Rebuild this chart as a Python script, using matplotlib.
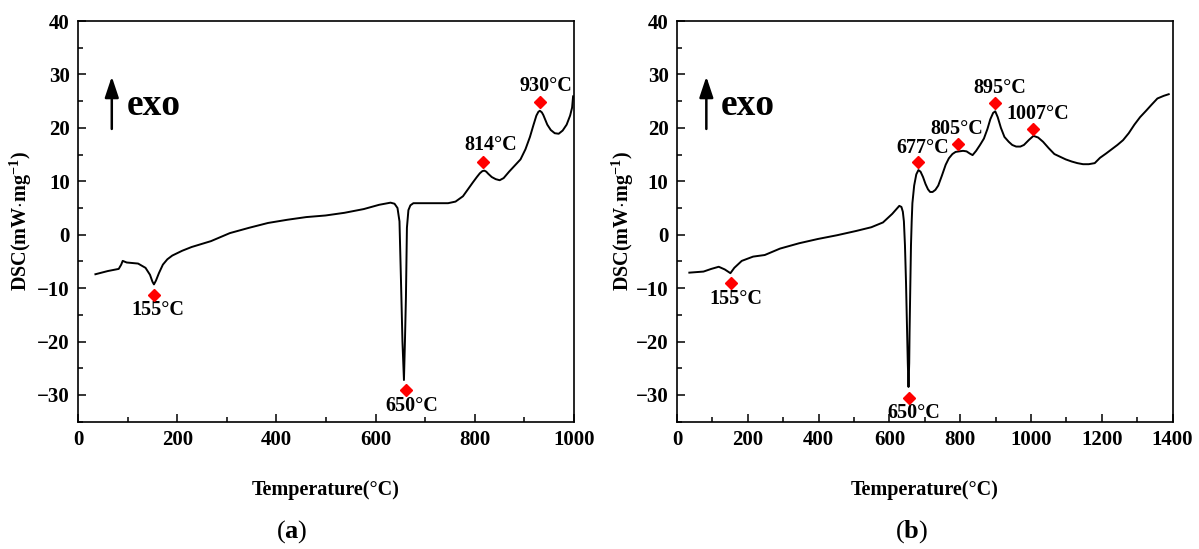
import numpy as np
import matplotlib
matplotlib.use("Agg")
import matplotlib.pyplot as plt
from matplotlib.ticker import MultipleLocator

plt.rcParams['font.family'] = ['Liberation Serif', 'DejaVu Serif']
plt.rcParams['mathtext.fontset'] = 'custom'
plt.rcParams['mathtext.rm'] = 'Liberation Serif'
plt.rcParams['mathtext.bf'] = 'Liberation Serif:bold'

# curve (a): temperature (C) and DSC (mW/mg)
temp_a = [35, 60, 82, 87, 90, 98, 121, 136, 145, 150, 153, 157, 163, 171, 180, 190, 210, 229,
          268, 306, 345, 383, 422, 460, 499, 537, 576, 607, 630, 638, 644, 648, 651, 654, 657,
          659, 661, 663, 666, 670, 676, 707, 746, 761, 776, 786, 796, 804, 810, 815, 819, 823,
          827, 834, 842, 850, 858, 869, 880, 892, 902, 911, 918, 924, 928, 931, 935, 938, 946,
          953, 961, 969, 977, 985, 992, 996, 998]
dsc_a = [-7.4, -6.8, -6.4, -5.6, -4.9, -5.2, -5.4, -6.2, -7.5, -8.8, -9.3, -8.6, -7.2, -5.6,
         -4.6, -3.9, -3.0, -2.3, -1.2, 0.3, 1.3, 2.2, 2.8, 3.3, 3.6, 4.1, 4.8, 5.6, 6.0, 5.8,
         5.0, 2.5, -8.5, -20.0, -27.2, -20.0, -11.8, 1.3, 4.6, 5.5, 5.9, 5.9, 5.9, 6.2, 7.2,
         8.5, 9.8, 10.8, 11.5, 11.9, 12.0, 11.8, 11.4, 10.8, 10.4, 10.2, 10.6, 11.8, 12.9,
         14.1, 16.0, 18.3, 20.5, 22.3, 23.0, 23.2, 22.9, 22.4, 20.6, 19.6, 19.0, 18.9, 19.5,
         20.6, 22.3, 23.8, 25.9]

# curve (b)
temp_b = [35, 75, 97, 118, 135, 151, 162, 183, 215, 248, 291, 345, 398, 452, 506, 549, 582,
          608, 620, 628, 634, 638, 641, 644, 647, 649, 652, 654, 656, 657, 659, 661, 663, 665,
          670, 676, 682, 688, 695, 702, 709, 715, 722, 730, 738, 748, 759, 768, 778, 787, 797,
          808, 818, 827, 835, 845, 856, 867, 877, 885, 893, 899, 906, 915, 925, 937, 947, 958,
          970, 980, 995, 1007, 1020, 1034, 1050, 1066, 1082, 1098, 1115, 1131, 1147, 1163,
          1180, 1195, 1212, 1228, 1244, 1260, 1276, 1292, 1308, 1325, 1340, 1357, 1375, 1389]
dsc_b = [-7.1, -6.9, -6.4, -6.0, -6.5, -7.2, -6.2, -4.9, -4.1, -3.8, -2.6, -1.6, -0.8, -0.1,
         0.7, 1.4, 2.3, 3.9, 4.8, 5.4, 5.2, 4.3, 2.5, -2.0, -9.0, -15.1, -24.0, -28.5, -24.0,
         -18.3, -10.0, -2.0, 2.5, 5.9, 9.2, 11.3, 12.1, 11.8, 10.8, 9.5, 8.5, 8.0, 8.0, 8.4,
         9.2, 11.0, 13.1, 14.3, 15.1, 15.5, 15.6, 15.7, 15.6, 15.2, 14.9, 15.7, 16.8, 18.0,
         19.8, 21.6, 22.8, 23.1, 22.0, 20.0, 18.3, 17.4, 16.8, 16.5, 16.5, 16.8, 17.8, 18.5,
         18.2, 17.4, 16.2, 15.1, 14.6, 14.1, 13.7, 13.4, 13.2, 13.2, 13.4, 14.4, 15.2, 16.0,
         16.8, 17.7, 19.0, 20.6, 22.0, 23.2, 24.3, 25.5, 26.0, 26.3]

# peak markers and their labels
mark_x_a = [153, 661, 817, 932]
mark_y_a = [-11.3, -29.0, 13.6, 24.8]
mark_lab_a = ['155°C', '650°C', '814°C', '930°C']
lab_off_a = [(3, -11), (4, -12), (5, 12), (4, 12)]

mark_x_b = [152, 656, 682, 794, 899, 1007]
mark_y_b = [-9.0, -30.6, 13.6, 17.0, 24.6, 19.8]
mark_lab_b = ['155°C', '650°C', '677°C', '805°C', '895°C', '1007°C']
lab_off_b = [(4, -12), (3.5, -10.5), (3.3, 10), (-1, 11), (3, 11), (3, 11)]

fig = plt.figure(figsize=(11.99, 5.49), dpi=100)
ax_a = fig.add_axes([0.0651, 0.2319, 0.4137, 0.7298])
ax_b = fig.add_axes([0.5646, 0.2319, 0.4134, 0.7298])


def style_axes(ax, xmax, ylab_x, exo_x, arrow_x):
    ax.set_xlim(0, xmax)
    ax.set_ylim(-35, 40)
    ax.xaxis.set_major_locator(MultipleLocator(200))
    ax.xaxis.set_minor_locator(MultipleLocator(100))
    ax.yaxis.set_major_locator(MultipleLocator(10))
    ax.yaxis.set_minor_locator(MultipleLocator(5))
    ax.tick_params(which='both', direction='in', top=False, right=False, width=1.1)
    ax.tick_params(which='major', length=6, labelsize=15, pad=6)
    ax.tick_params(which='minor', length=3.5)
    for lab in ax.get_xticklabels() + ax.get_yticklabels():
        lab.set_fontweight('bold')
    for sp in ax.spines.values():
        sp.set_linewidth(1.2)
    ax.set_xlabel('Temperature(°C)', fontsize=14.5, fontweight='bold')
    ax.xaxis.set_label_coords(0.5, -0.17)
    ax.xaxis.label.set_va('center')
    ax.set_ylabel(r'DSC(mW$\cdot$mg$^{\mathbf{-1}}$)', fontsize=14.5, fontweight='bold')
    ax.yaxis.label.set_va('center')
    ax.yaxis.set_label_coords(ylab_x, 0.5)
    ax.text(exo_x, 24.2, 'exo', fontsize=27, fontweight='bold', va='center', ha='left')
    ax.annotate('', xy=(arrow_x, 29.6), xytext=(arrow_x, 19.8),
                arrowprops=dict(arrowstyle='-|>,head_length=0.9,head_width=0.3',
                                color='black', lw=1.8,
                                mutation_scale=14, shrinkA=0, shrinkB=0))


style_axes(ax_a, 1000, -0.115, 99, 68)
style_axes(ax_b, 1400, -0.109, 124, 83)

ax_a.plot(temp_a, dsc_a, color='black', lw=1.4)
ax_b.plot(temp_b, dsc_b, color='black', lw=1.4)

for ax, mx, my, labs, offs in [(ax_a, mark_x_a, mark_y_a, mark_lab_a, lab_off_a),
                               (ax_b, mark_x_b, mark_y_b, mark_lab_b, lab_off_b)]:
    ax.plot(mx, my, 'D', color='#ff0000', ms=6, mec='#ff0000', zorder=5)
    for x, y, t, off in zip(mx, my, labs, offs):
        ax.annotate(t, (x, y), xytext=off, textcoords='offset points',
                    ha='center', va='center', fontsize=14.5, fontweight='bold')

fig.text(292 / 1199, 1 - 532 / 549, r'($\mathbf{a}$)', fontsize=19, ha='center', va='center')
fig.text(912 / 1199, 1 - 532 / 549, r'($\mathbf{b}$)', fontsize=19, ha='center', va='center')

fig.savefig('out.png', dpi=100)
